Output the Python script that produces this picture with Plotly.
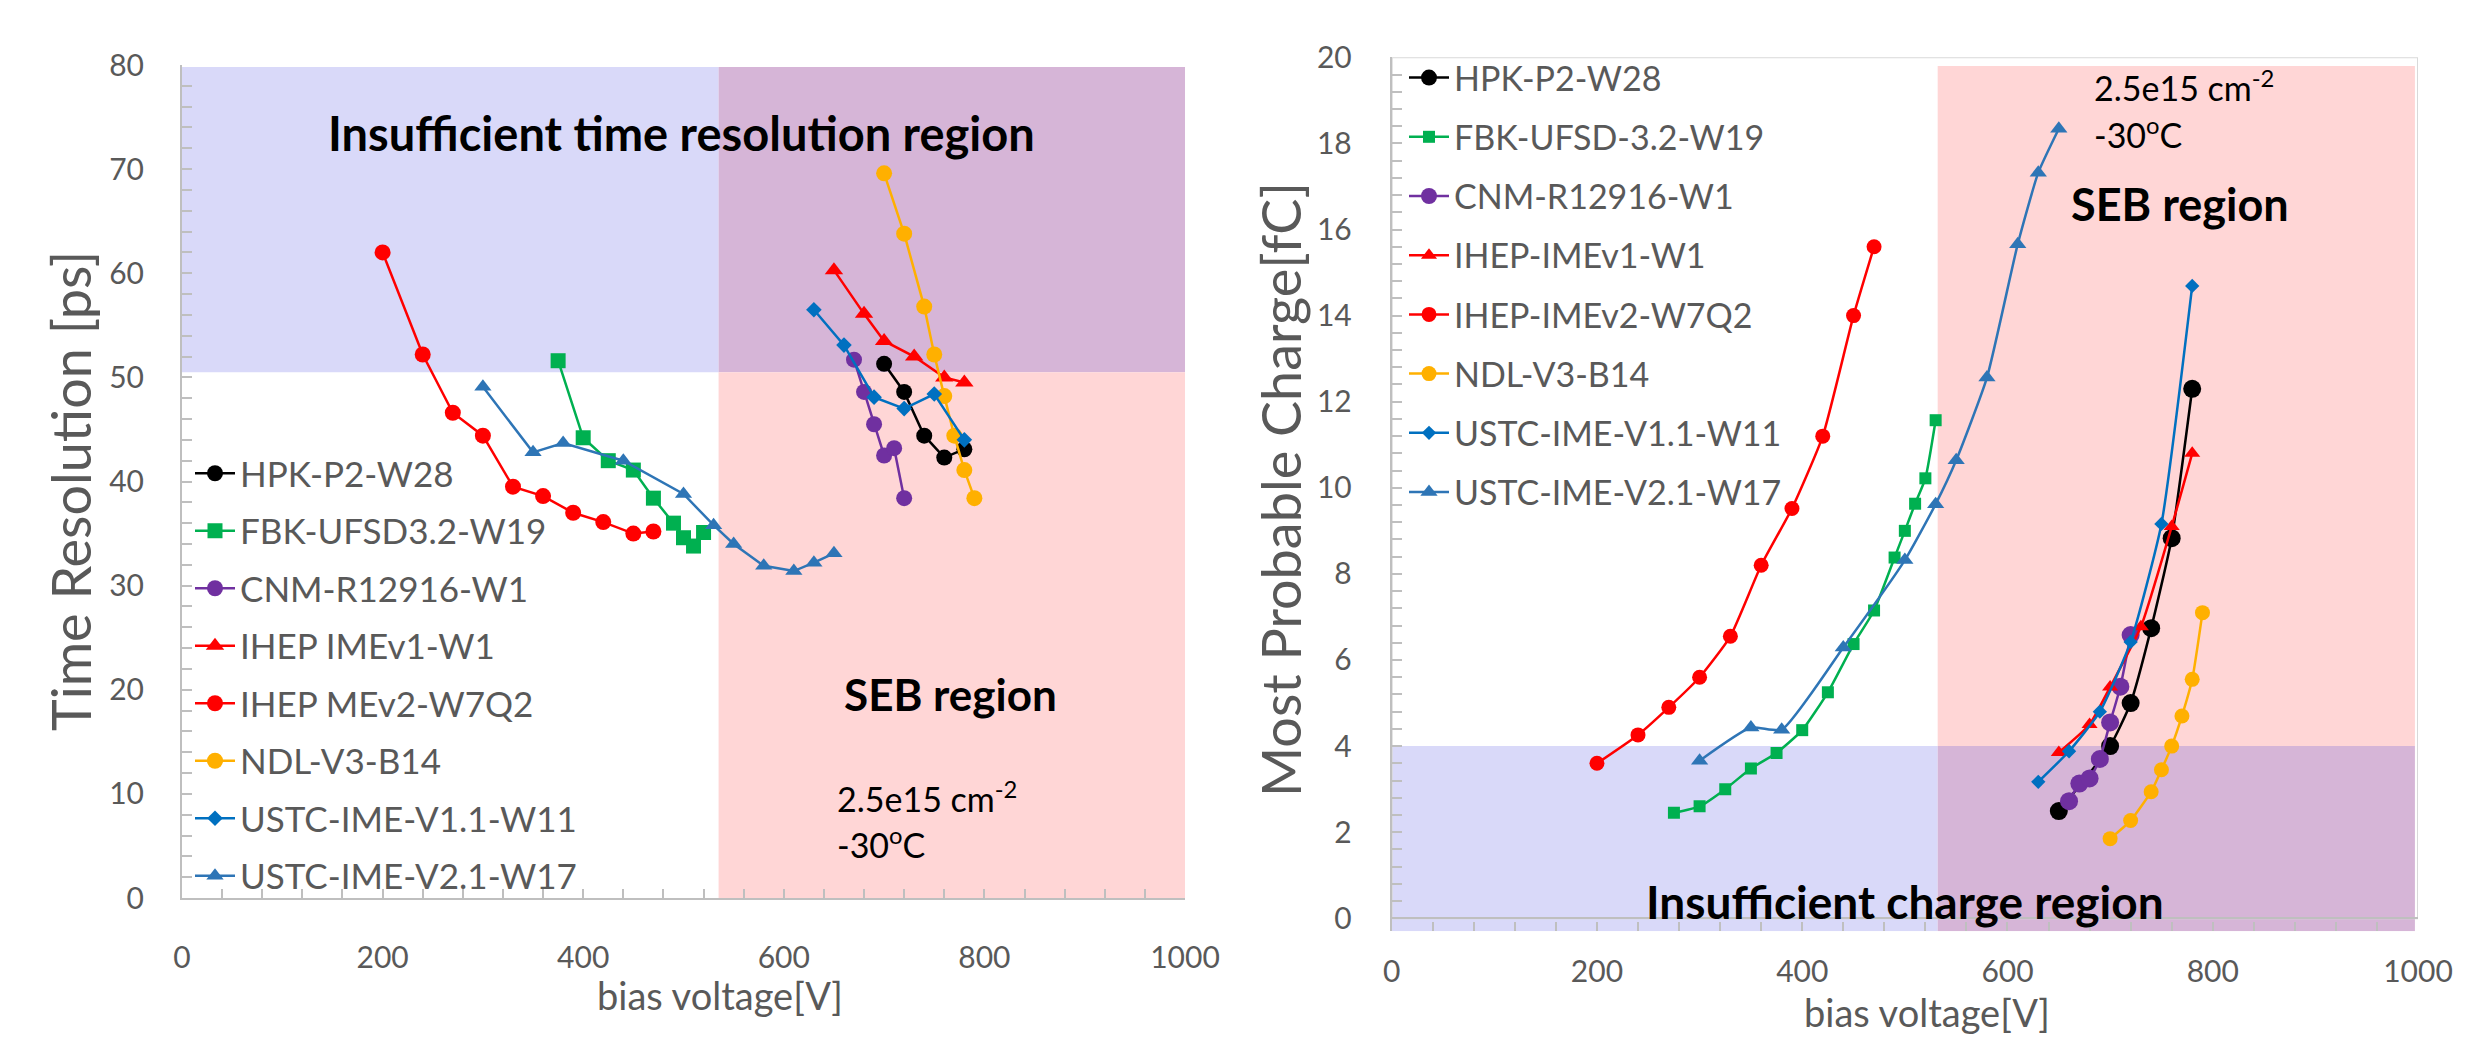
import plotly.graph_objects as go

W, H = 2473, 1043          # browser window
BODY = 8                   # default html body margin
FW, FH = W - 2 * BODY, H - 2 * BODY


def px(x):                 # page pixel -> paper x
    return (x - BODY) / FW


def py(y):                 # page pixel -> paper y
    return 1 - (y - BODY) / FH


# ---------------- data: time resolution (left panel) ----------------
names_left = ["HPK-P2-W28", "FBK-UFSD3.2-W19", "CNM-R12916-W1", "IHEP IMEv1-W1",
              "IHEP MEv2-W7Q2", "NDL-V3-B14", "USTC-IME-V1.1-W11", "USTC-IME-V2.1-W17"]
hpk_v_t = [700, 720, 740, 760, 780]
hpk_t = [51.3, 48.6, 44.4, 42.3, 43.1]
fbk_v_t = [375, 400, 425, 450, 470, 490, 500, 510, 520]
fbk_t = [51.6, 44.2, 42.0, 41.1, 38.4, 36.0, 34.6, 33.8, 35.1]
cnm_v_t = [670, 680, 690, 700, 710, 720]
cnm_t = [51.7, 48.6, 45.5, 42.5, 43.2, 38.4]
ihep1_v_t = [650, 680, 700, 730, 760, 780]
ihep1_t = [60.3, 56.1, 53.5, 52.0, 50.0, 49.5]
ihep2_v_t = [200, 240, 270, 300, 330, 360, 390, 420, 450, 470]
ihep2_t = [62.0, 52.2, 46.6, 44.4, 39.5, 38.6, 37.0, 36.1, 35.0, 35.2]
ndl_v_t = [700, 720, 740, 750, 760, 770, 780, 790]
ndl_t = [69.6, 63.8, 56.8, 52.2, 48.2, 44.4, 41.1, 38.4]
ustc1_v_t = [630, 660, 690, 720, 750, 780]
ustc1_t = [56.5, 53.1, 48.1, 47.0, 48.4, 44.0]
ustc2_v_t = [300, 350, 380, 440, 500, 530, 550, 580, 610, 630, 650]
ustc2_t = [49.1, 42.8, 43.7, 42.0, 38.8, 35.8, 34.0, 31.9, 31.4, 32.2, 33.1]

# ---------------- data: most probable charge (right panel) ----------------
names_right = ["HPK-P2-W28", "FBK-UFSD-3.2-W19", "CNM-R12916-W1", "IHEP-IMEv1-W1",
               "IHEP-IMEv2-W7Q2", "NDL-V3-B14", "USTC-IME-V1.1-W11", "USTC-IME-V2.1-W17"]
hpk_v_q = [650, 700, 720, 740, 760, 780]
hpk_q = [2.49, 4.0, 5.0, 6.74, 8.83, 12.3]
fbk_v_q = [275, 300, 325, 350, 375, 400, 425, 450, 470, 490, 500, 510, 520, 530]
fbk_q = [2.45, 2.6, 3.0, 3.48, 3.84, 4.37, 5.25, 6.37, 7.15, 8.38, 9.0, 9.63, 10.22, 11.57]
cnm_v_q = [660, 670, 680, 690, 700, 710, 720]
cnm_q = [2.72, 3.13, 3.25, 3.7, 4.55, 5.38, 6.58]
ihep1_v_q = [650, 680, 700, 730, 760, 780]
ihep1_q = [3.85, 4.5, 5.37, 6.77, 9.1, 10.8]
ihep2_v_q = [200, 240, 270, 300, 330, 360, 390, 420, 450, 470]
ihep2_q = [3.6, 4.26, 4.9, 5.6, 6.55, 8.2, 9.52, 11.2, 14.0, 15.6]
ndl_v_q = [700, 720, 740, 750, 760, 770, 780, 790]
ndl_q = [1.85, 2.27, 2.94, 3.45, 4.0, 4.7, 5.55, 7.1]
ustc1_v_q = [630, 660, 690, 720, 750, 780]
ustc1_q = [3.17, 3.88, 4.8, 6.42, 9.16, 14.69]
ustc2_v_q = [300, 350, 380, 440, 500, 530, 550, 580, 610, 630, 650]
ustc2_q = [3.66, 4.43, 4.38, 6.29, 8.32, 9.62, 10.64, 12.56, 15.66, 17.32, 18.34]

# region thresholds
seb_v_left = 535
seb_v_right = 532
time_limit = 50.5
charge_limit = 4.0

# ---------------- styles ----------------
colors = ["#000000", "#00B050", "#7030A0", "#FF0000", "#FF0000", "#FFB000", "#0070C0", "#2E75B6"]
symbols = ["circle", "square", "circle", "triangle-up", "circle", "circle", "diamond", "triangle-up"]
sizes_left = [16, 15, 16, 16, 16, 16, 12, 15]
sizes_right = [18, 12, 18, 14, 15, 15, 11, 15]

left_series = [(hpk_v_t, hpk_t), (fbk_v_t, fbk_t), (cnm_v_t, cnm_t), (ihep1_v_t, ihep1_t),
               (ihep2_v_t, ihep2_t), (ndl_v_t, ndl_t), (ustc1_v_t, ustc1_t), (ustc2_v_t, ustc2_t)]
right_series = [(hpk_v_q, hpk_q), (fbk_v_q, fbk_q), (cnm_v_q, cnm_q), (ihep1_v_q, ihep1_q),
                (ihep2_v_q, ihep2_q), (ndl_v_q, ndl_q), (ustc1_v_q, ustc1_q), (ustc2_v_q, ustc2_q)]

FONT = "Lato, 'Open Sans', sans-serif"
GREY = "#595959"

fig = go.Figure()

for i, (xs, ys) in enumerate(left_series):
    fig.add_trace(go.Scatter(
        x=xs, y=ys, name=names_left[i], mode="lines+markers",
        line=dict(color=colors[i], width=2.5),
        marker=dict(symbol=symbols[i], size=sizes_left[i], color=colors[i]),
        xaxis="x", yaxis="y", legend="legend", legendgroup="L%d" % i))

for i, (xs, ys) in enumerate(right_series):
    fig.add_trace(go.Scatter(
        x=xs, y=ys, name=names_right[i], mode="lines+markers",
        line=dict(color=colors[i], width=2.5, shape="spline", smoothing=0.5),
        marker=dict(symbol=symbols[i], size=sizes_right[i], color=colors[i]),
        xaxis="x2", yaxis="y2", legend="legend2", legendgroup="R%d" % i))

BLUE = "#D9D9F9"
PINK = "#FFD6D6"
PURPLE = "#D6B5D7"

shapes = [
    # left panel regions
    dict(type="rect", xref="x", yref="y", x0=0, x1=seb_v_left, y0=time_limit, y1=79.8,
         fillcolor=BLUE, line=dict(width=0), layer="below"),
    dict(type="rect", xref="x", yref="y", x0=seb_v_left, x1=1000, y0=time_limit, y1=79.8,
         fillcolor=PURPLE, line=dict(width=0), layer="below"),
    dict(type="rect", xref="x", yref="y", x0=seb_v_left, x1=1000, y0=0, y1=time_limit,
         fillcolor=PINK, line=dict(width=0), layer="below"),
    # right panel regions
    dict(type="rect", xref="x2", yref="y2", x0=0, x1=seb_v_right, y0=-0.3, y1=charge_limit,
         fillcolor=BLUE, line=dict(width=0), layer="below"),
    dict(type="rect", xref="x2", yref="y2", x0=seb_v_right, x1=997, y0=-0.3, y1=charge_limit,
         fillcolor=PURPLE, line=dict(width=0), layer="below"),
    dict(type="rect", xref="x2", yref="y2", x0=seb_v_right, x1=997, y0=charge_limit, y1=19.8,
         fillcolor=PINK, line=dict(width=0), layer="below"),
    # right panel frame
    dict(type="rect", xref="x2", yref="y2", x0=0, x1=1000, y0=0, y1=20,
         fillcolor="rgba(0,0,0,0)", line=dict(width=2, color="#D9D9D9"), layer="below"),
]

BLACK = "#000000"
annotations = [
    dict(xref="x", yref="y", x=498, y=73.5, text="<b>Insufficient time resolution region</b>",
         xanchor="center", yanchor="middle",
         showarrow=False, font=dict(family=FONT, size=47, color=BLACK)),
    dict(xref="x", yref="y", x=766, y=19.6, text="<b>SEB region</b>",
         xanchor="center", yanchor="middle",
         showarrow=False, font=dict(family=FONT, size=44, color=BLACK)),
    dict(xref="x", yref="y", x=651, y=9.7, text="2.5e15 cm<sup>-2</sup>", xanchor="left",
         yanchor="middle", showarrow=False, font=dict(family=FONT, size=34, color=BLACK)),
    dict(xref="x", yref="y", x=651, y=5.3, text="-30<sup>o</sup>C", xanchor="left",
         yanchor="middle", showarrow=False, font=dict(family=FONT, size=34, color=BLACK)),
    dict(xref="x2", yref="y2", x=768, y=16.6, text="<b>SEB region</b>",
         xanchor="center", yanchor="middle",
         showarrow=False, font=dict(family=FONT, size=45, color=BLACK)),
    dict(xref="x2", yref="y2", x=500, y=0.4, text="<b>Insufficient charge region</b>",
         xanchor="center", yanchor="middle",
         showarrow=False, font=dict(family=FONT, size=46, color=BLACK)),
    dict(xref="x2", yref="y2", x=682, y=19.33, text="2.5e15 cm<sup>-2</sup>", xanchor="left",
         yanchor="middle", showarrow=False, font=dict(family=FONT, size=34, color=BLACK)),
    dict(xref="x2", yref="y2", x=682, y=18.24, text="-30<sup>o</sup>C", xanchor="left",
         yanchor="middle", showarrow=False, font=dict(family=FONT, size=34, color=BLACK)),
    # axis titles
    dict(xref="paper", yref="paper", x=px(70), y=py(491), text="Time Resolution [ps]",
         xanchor="center", yanchor="middle",
         textangle=-90, showarrow=False, font=dict(family=FONT, size=54, color=GREY)),
    dict(xref="paper", yref="paper", x=px(1280), y=py(490), text="Most Probable Charge[fC]",
         xanchor="center", yanchor="middle",
         textangle=-90, showarrow=False, font=dict(family=FONT, size=54, color=GREY)),
    dict(xref="paper", yref="paper", x=px(720), y=py(995), text="bias voltage[V]",
         xanchor="center", yanchor="middle",
         showarrow=False, font=dict(family=FONT, size=38, color=GREY)),
    dict(xref="paper", yref="paper", x=px(1927), y=py(1012), text="bias voltage[V]",
         xanchor="center", yanchor="middle",
         showarrow=False, font=dict(family=FONT, size=38, color=GREY)),
]

AX = "#BFBFBF"
common_x = dict(range=[0, 1000], dtick=200, tick0=0, showgrid=False, zeroline=False,
                ticks="inside", ticklen=9, tickwidth=2, tickcolor=AX, automargin=False,
                minor=dict(ticks="inside", ticklen=9, tickwidth=2, tickcolor=AX, dtick=40, showgrid=False),
                tickfont=dict(family=FONT, size=30, color=GREY))

fig.update_layout(
    width=FW, height=FH,
    margin=dict(l=0, r=0, t=0, b=0, autoexpand=False),
    paper_bgcolor="white", plot_bgcolor="white",
    font=dict(family=FONT, color=GREY),
    showlegend=True,
    xaxis=dict(domain=[px(182), px(1185)], anchor="y", showline=True, linecolor=AX, linewidth=2,
               ticklabelstandoff=32, **common_x),
    yaxis=dict(domain=[py(898), py(65)], anchor="x", range=[0, 80], dtick=10, tick0=0,
               showgrid=False, zeroline=False, showline=True, linecolor=AX, linewidth=2,
               ticks="inside", ticklen=10, tickwidth=2, tickcolor=AX, automargin=False,
               minor=dict(ticks="inside", ticklen=10, tickwidth=2, tickcolor=AX, dtick=2, showgrid=False),
               tickfont=dict(family=FONT, size=30, color=GREY), ticklabelstandoff=30),
    xaxis2=dict(domain=[px(1391.7), px(2418)], anchor="y2", showline=False,
                ticklabelstandoff=20, **common_x),
    yaxis2=dict(domain=[py(931.2), py(57.3)], anchor="x2", range=[-0.3, 20], dtick=2, tick0=0,
                showgrid=False, zeroline=True, zerolinecolor=AX, zerolinewidth=2,
                showline=True, linecolor=AX, linewidth=2, automargin=False,
                ticks="inside", ticklen=10, tickwidth=2, tickcolor=AX,
                minor=dict(ticks="inside", ticklen=10, tickwidth=2, tickcolor=AX, dtick=0.4, showgrid=False),
                tickfont=dict(family=FONT, size=30, color=GREY), ticklabelstandoff=32),
    legend=dict(x=px(190), y=py(444), xanchor="left", yanchor="top",
                bgcolor="rgba(0,0,0,0)", borderwidth=0, tracegroupgap=9, itemwidth=40,
                font=dict(family=FONT, size=35, color=GREY)),
    legend2=dict(x=px(1404), y=py(49), xanchor="left", yanchor="top",
                 bgcolor="rgba(0,0,0,0)", borderwidth=0, tracegroupgap=12, itemwidth=40,
                 font=dict(family=FONT, size=34, color=GREY)),
    shapes=shapes,
    annotations=annotations,
)

fig.write_html("out.html")
